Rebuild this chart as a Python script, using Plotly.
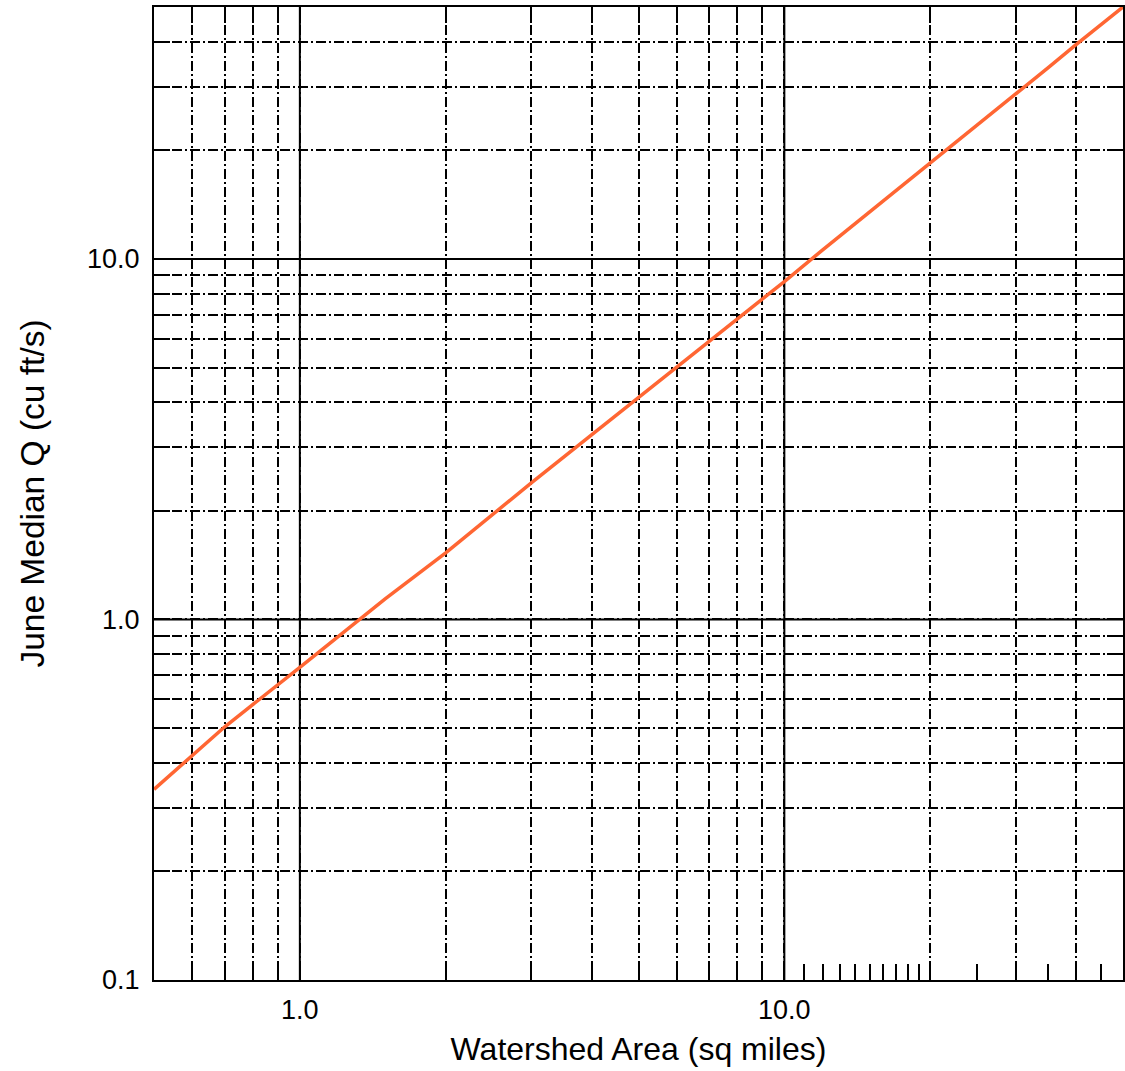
import math
import plotly.graph_objects as go

# --- data ---
area = [0.5, 0.7, 1, 1.5, 2, 3, 4, 5, 6, 7, 8, 9, 10, 12, 15, 20, 25, 30, 35, 40, 45, 50]
june_q = [0.338, 0.504, 0.737, 1.14, 1.53, 2.39, 3.25, 4.12, 5.01, 5.91, 6.82, 7.74, 8.66,
          10.6, 13.5, 18.4, 23.5, 28.7, 33.9, 39.3, 44.6, 50.0]

x_major = [1, 10]
x_major_labels = ["1.0", "10.0"]
x_minor = [0.6, 0.7, 0.8, 0.9, 2, 3, 4, 5, 6, 7, 8, 9, 20, 30, 40]
x_extra_ticks = [11, 12, 13, 14, 15, 16, 17, 18, 19, 25, 35, 45]

y_major = [0.1, 1, 10]
y_major_labels = ["0.1", "1.0", "10.0"]
y_minor = [0.2, 0.3, 0.4, 0.5, 0.6, 0.7, 0.8, 0.9, 2, 3, 4, 5, 6, 7, 8, 9, 20, 30, 40]

x_range = [0.5, 50]
y_range = [0.1, 50]

FONT = "Liberation Sans, Arial, sans-serif"
DASHDOT = "10px,3px,2px,3px"

fig = go.Figure()
fig.add_trace(go.Scatter(x=area, y=june_q, mode="lines",
                         line=dict(color="#FF6633", width=3.5),
                         hoverinfo="skip", showlegend=False))
# invisible trace to anchor the secondary (tick-only) x axis
fig.add_trace(go.Scatter(x=area, y=june_q, mode="lines", xaxis="x2",
                         line=dict(color="rgba(0,0,0,0)", width=0),
                         hoverinfo="skip", showlegend=False))

x_ticks = sorted(x_major + x_minor)
x_text = [x_major_labels[x_major.index(v)] if v in x_major else "" for v in x_ticks]
y_ticks = sorted(y_major + y_minor)
y_text = [y_major_labels[y_major.index(v)] if v in y_major else "" for v in y_ticks]

axis_common = dict(
    type="log", showline=True, linecolor="black", linewidth=2, mirror="ticks",
    ticks="inside", ticklen=16, tickwidth=2, tickcolor="black",
    showgrid=True, gridcolor="black", gridwidth=2, griddash=DASHDOT,
    zeroline=False, tickfont=dict(family=FONT, size=27, color="black"),
    tickmode="array",
)

fig.update_layout(
    width=1125, height=1071,
    margin=dict(l=154, r=0, t=7, b=91),
    paper_bgcolor="white", plot_bgcolor="white",
    xaxis=dict(axis_common, range=[math.log10(x_range[0]), math.log10(x_range[1])],
               tickvals=x_ticks, ticktext=x_text, ticklabelstandoff=5,
               title=dict(text="Watershed Area (sq miles)",
                          font=dict(family=FONT, size=32, color="black"), standoff=13)),
    xaxis2=dict(type="log", overlaying="x", side="bottom",
                range=[math.log10(x_range[0]), math.log10(x_range[1])],
                tickmode="array", tickvals=x_extra_ticks, ticks="inside", ticklen=16,
                tickwidth=2, tickcolor="black", showticklabels=False,
                showgrid=False, showline=False, zeroline=False),
    yaxis=dict(axis_common, range=[math.log10(y_range[0]), math.log10(y_range[1])],
               tickvals=y_ticks, ticktext=y_text, ticklabelstandoff=7,
               title=dict(text="June Median Q (cu ft/s)",
                          font=dict(family=FONT, size=33.5, color="black"), standoff=32)),
)

# solid major grid lines
for v in x_major:
    fig.add_shape(type="line", xref="x", yref="paper", x0=v, x1=v, y0=0, y1=1,
                  line=dict(color="black", width=2), layer="below")
for v in y_major[1:]:
    fig.add_shape(type="line", xref="paper", yref="y", x0=0, x1=1, y0=v, y1=v,
                  line=dict(color="black", width=2), layer="below")

fig.write_html("out.html")
